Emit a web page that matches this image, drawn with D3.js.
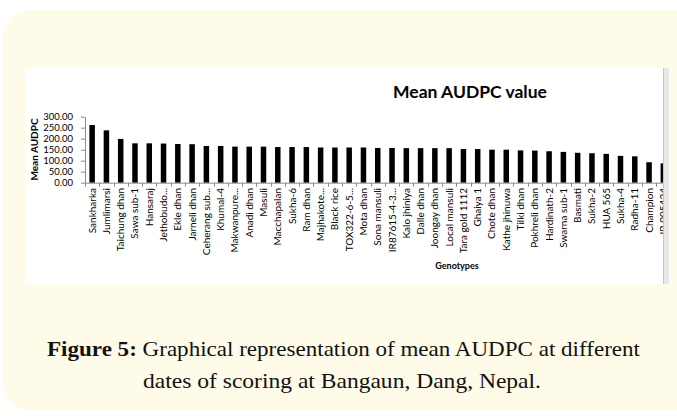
<!DOCTYPE html>
<html>
<head>
<meta charset="utf-8">
<script src="https://cdn.jsdelivr.net/npm/d3@7"></script>
<style>
  html, body { margin: 0; padding: 0; background: #fff; }
  svg { display: block; }
</style>
</head>
<body>
<div id="vis"></div>
<script>
// genotypes, in the order they are plotted (sorted by mean AUDPC)
var genotypes = [
    "Sankharka", "Jumlimarsi", "Taichung dhan", "Sawa sub-1", "Hansaraj",
    "Jethobudo...", "Ekle dhan", "Jarneli dhan", "Ceherang sub...", "Khumal-4",
    "Makwanpure...", "Anadi dhan", "Masuli", "Macchapalan", "Sukha-6",
    "Ram dhan", "Majhakote...", "Black rice", "TOX322-6-5...", "Mota dhan",
    "Sona mansuli", "IR87615-4-3...", "Kalo jhiniya", "Dalle dhan", "Joongay dhan",
    "Local mansuli", "Tara gold 1112", "Ghaiya 1", "Chote dhan", "Kathe jhinuwa",
    "Tilki dhan", "Pokhreli dhan", "Hardinath-2", "Swarna sub-1", "Basmati",
    "Sukha-2", "HUA 565", "Sukha-4", "Radha-11", "Champion", "IR 005424"
];

// mean AUDPC per genotype
var meanAudpc = [
    262, 238, 199, 179, 179,
    178, 176, 175, 167, 167,
    164, 164, 164, 162, 162,
    162, 160, 160, 160, 160,
    158, 158, 157, 157, 157,
    157, 153, 153, 150, 150,
    147, 146, 143, 140, 136,
    134, 131, 122, 120, 93, 88
];

var yTicks = [0, 50, 100, 150, 200, 250, 300];

var captionBold = "Figure 5:";
var captionLine1 = " Graphical representation of mean AUDPC at different";
var captionLine2 = "dates of scoring at Bangaun, Dang, Nepal.";

var width = 677, height = 416;
var chartFont = "Lato, 'Open Sans', sans-serif";

var svg = d3.select("#vis").append("svg")
    .attr("width", width)
    .attr("height", height);

// yellow card behind everything
svg.append("rect")
    .attr("x", 3).attr("y", 10)
    .attr("width", 700).attr("height", 400)
    .attr("rx", 26).attr("ry", 26)
    .attr("fill", "#fffbe9");

// white chart panel + grey strip on its right
svg.append("rect")
    .attr("x", 25).attr("y", 68)
    .attr("width", 638).attr("height", 216)
    .attr("fill", "#fff");
svg.append("rect")
    .attr("x", 663).attr("y", 68)
    .attr("width", 6).attr("height", 216)
    .attr("fill", "#e8e8e8");
svg.append("line")
    .attr("x1", 663.5).attr("x2", 663.5)
    .attr("y1", 68).attr("y2", 284)
    .attr("stroke", "#c6c6c6");

svg.append("clipPath").attr("id", "panelClip")
  .append("rect")
    .attr("x", 25).attr("y", 68)
    .attr("width", 638).attr("height", 216);

var g = svg.append("g").attr("clip-path", "url(#panelClip)");

// scales
var step = 14.28;
var x = d3.scaleBand()
    .domain(genotypes)
    .range([85, 85 + genotypes.length * step])
    .paddingInner(0.615)
    .paddingOuter(0.3075);

var y = d3.scaleLinear()
    .domain([0, 300])
    .range([182.7, 116.7]);

// title
g.append("text")
    .attr("x", 470).attr("y", 98)
    .attr("text-anchor", "middle")
    .style("font-family", chartFont)
    .style("font-weight", "bold")
    .style("font-size", "17.5px")
    .attr("fill", "#000")
    .text("Mean AUDPC value");

// y axis
var yAxis = d3.axisLeft(y)
    .tickValues(yTicks)
    .tickFormat(d3.format(".2f"))
    .tickSizeInner(4)
    .tickSizeOuter(0);

var yg = g.append("g")
    .attr("transform", "translate(85,0)")
    .call(yAxis);
yg.select(".domain").attr("stroke", "#8c8c8c");
yg.selectAll(".tick line").attr("stroke", "#8c8c8c");
yg.selectAll(".tick text")
    .attr("x", -12)
    .style("font-family", chartFont)
    .style("font-size", "9.5px")
    .attr("fill", "#000");

g.append("text")
    .attr("transform", "translate(38,149.5) rotate(-90)")
    .attr("text-anchor", "middle")
    .style("font-family", chartFont)
    .style("font-weight", "bold")
    .style("font-size", "10px")
    .attr("fill", "#000")
    .text("Mean AUDPC");

// bars
g.selectAll(".bar")
    .data(genotypes)
  .enter().append("rect")
    .attr("class", "bar")
    .attr("x", function(d) { return x(d); })
    .attr("width", x.bandwidth())
    .attr("y", function(d, i) { return y(meanAudpc[i]); })
    .attr("height", function(d, i) { return y(0) - y(meanAudpc[i]); })
    .attr("fill", "#000");

// x axis line and ticks between categories
g.append("line")
    .attr("x1", 85).attr("x2", 85 + genotypes.length * step)
    .attr("y1", y(0) + 0.5).attr("y2", y(0) + 0.5)
    .attr("stroke", "#8c8c8c");

g.selectAll(".xtick")
    .data(d3.range(genotypes.length + 1))
  .enter().append("line")
    .attr("class", "xtick")
    .attr("x1", function(i) { return Math.round(85 + i * step) + 0.5; })
    .attr("x2", function(i) { return Math.round(85 + i * step) + 0.5; })
    .attr("y1", y(0))
    .attr("y2", y(0) + 4)
    .attr("stroke", "#8c8c8c");

// rotated category labels
g.selectAll(".xlabel")
    .data(genotypes)
  .enter().append("text")
    .attr("class", "xlabel")
    .attr("transform", function(d) {
        return "translate(" + (x(d) + x.bandwidth() / 2 + 3.5) + "," + 188 + ") rotate(-90)";
    })
    .attr("text-anchor", "end")
    .style("font-family", chartFont)
    .style("font-size", "10px")
    .attr("fill", "#000")
    .text(function(d) { return d; });

g.append("text")
    .attr("x", 457).attr("y", 268.5)
    .attr("text-anchor", "middle")
    .style("font-family", chartFont)
    .style("font-weight", "bold")
    .style("font-size", "9px")
    .attr("fill", "#000")
    .text("Genotypes");

// caption, stretched to the width of the original condensed serif
var cap1 = svg.append("text")
    .attr("x", 47).attr("y", 356)
    .attr("textLength", 593)
    .attr("lengthAdjust", "spacingAndGlyphs")
    .style("font-family", "'Liberation Serif', serif")
    .style("font-size", "21.5px")
    .attr("fill", "#111");
cap1.append("tspan").style("font-weight", "bold").text(captionBold);
cap1.append("tspan").text(captionLine1);

svg.append("text")
    .attr("x", 143).attr("y", 388)
    .attr("textLength", 398)
    .attr("lengthAdjust", "spacingAndGlyphs")
    .style("font-family", "'Liberation Serif', serif")
    .style("font-size", "21.5px")
    .attr("fill", "#111")
    .text(captionLine2);
</script>
</body>
</html>
